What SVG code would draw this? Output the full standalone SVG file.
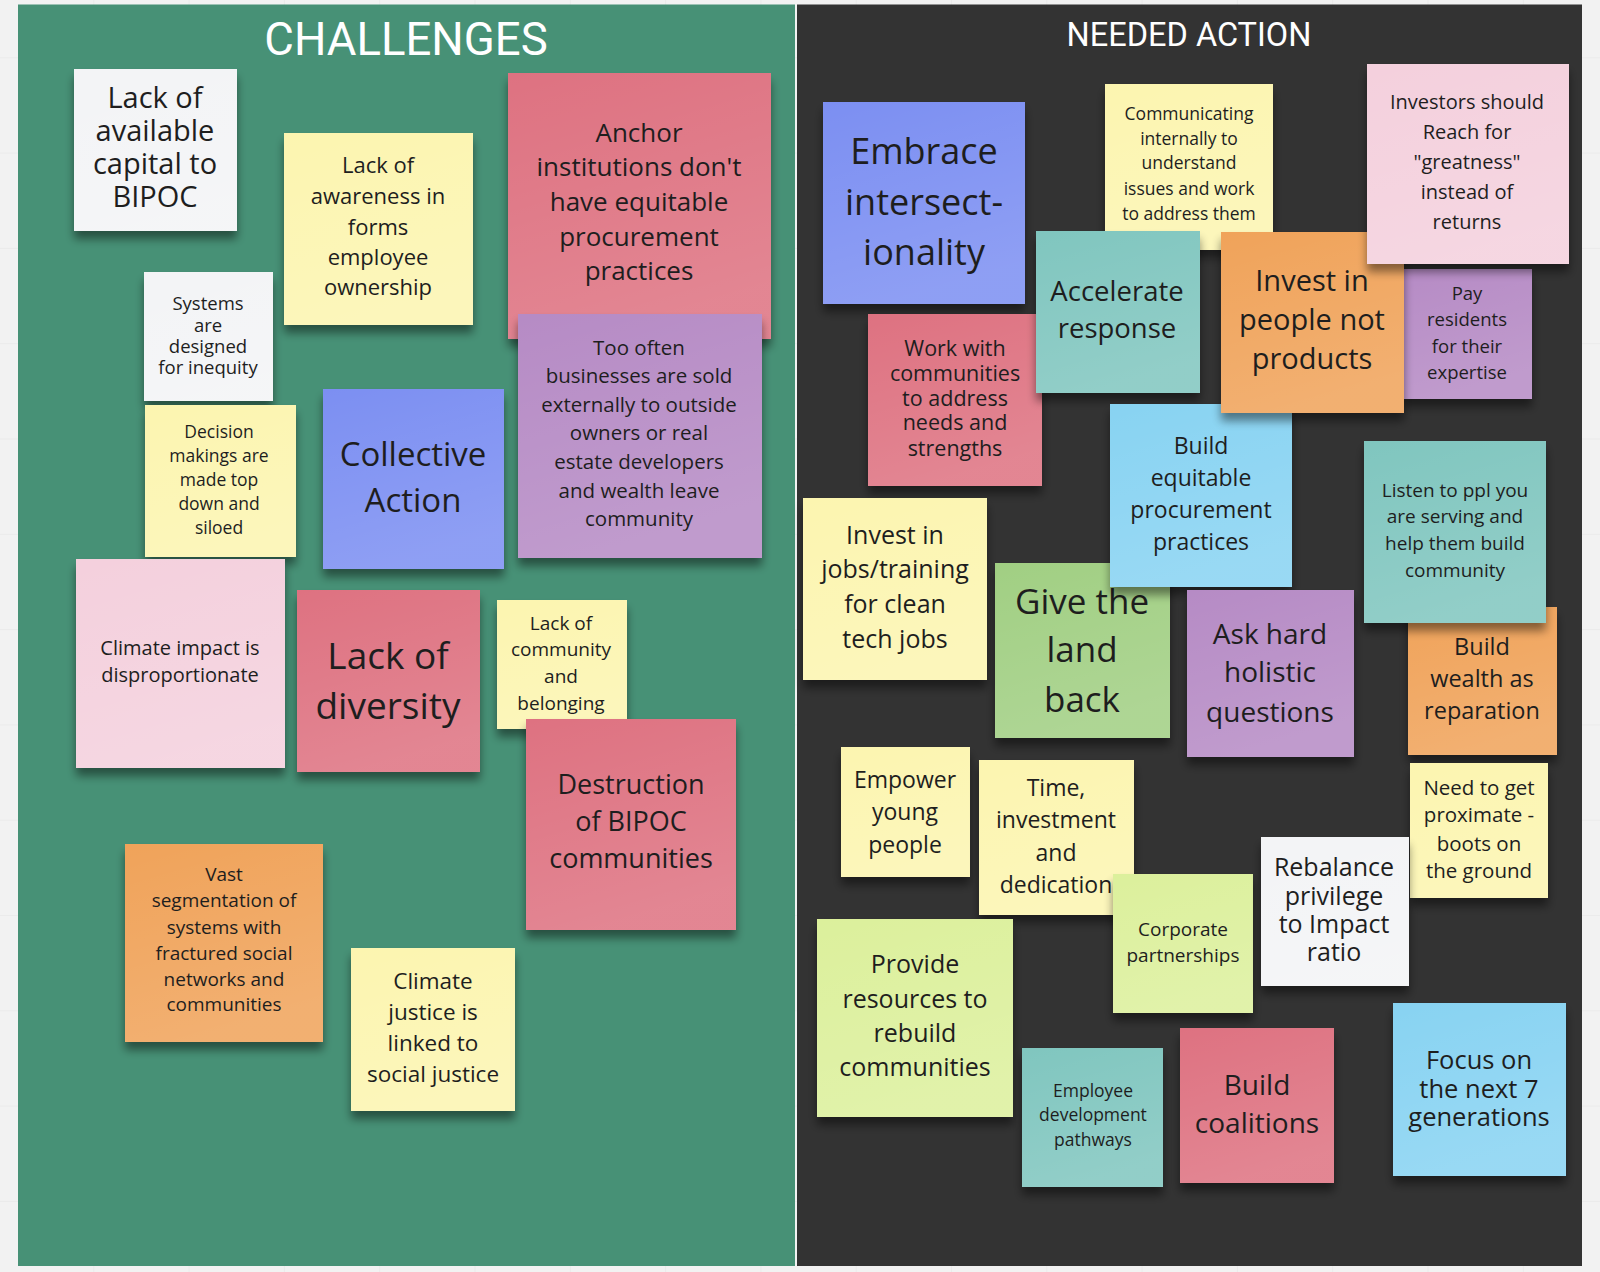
<svg xmlns="http://www.w3.org/2000/svg" width="1600" height="1272" viewBox="0 0 1600 1272">
<defs>
<pattern id="grid" x="-2" y="-38" width="95.3" height="95.3" patternUnits="userSpaceOnUse">
<path d="M0 0H95.3M0 0V95.3" fill="none" stroke="#e3e3e3" stroke-width="1"/>
</pattern>
<filter id="sh" x="-20%" y="-20%" width="140%" height="150%">
<feGaussianBlur in="SourceAlpha" stdDeviation="5"/>
<feOffset dy="8"/>
<feComponentTransfer><feFuncA type="linear" slope="0.45"/></feComponentTransfer>
<feMerge><feMergeNode/><feMergeNode in="SourceGraphic"/></feMerge>
</filter>
<linearGradient id="sheen" x1="0" y1="0" x2="0.3" y2="1">
<stop offset="0" stop-color="#fff" stop-opacity="0"/>
<stop offset="1" stop-color="#fff" stop-opacity="0.14"/>
</linearGradient>
</defs>
<style>
.s{filter:url(#sh)}
.g{fill:url(#sheen)}
.t{font-family:"Open Sans","DejaVu Sans",sans-serif;text-anchor:middle;fill:#1e1e1e}
.h{font-family:Roboto,"Liberation Sans",sans-serif;text-anchor:middle;fill:#ffffff}
.wh{fill:#f3f4f6}.ye{fill:#fcf5b0}.re{fill:#de7281}.pu{fill:#b68bc5}.bl{fill:#7b8ff2}
.pk{fill:#f4d0dd}.or{fill:#f0a35a}.te{fill:#80c6bf}.lb{fill:#88d3f2}.gr{fill:#a1cf83}.lg{fill:#dcf09c}
</style>
<rect width="1600" height="1272" fill="#f2f2f2"/>
<rect width="1600" height="1272" fill="url(#grid)"/>
<rect x="18" y="4.5" width="777" height="1261.5" fill="#479176"/>
<rect x="797" y="4.5" width="785" height="1261.5" fill="#333333"/>
<text class="h" x="406" y="55" font-size="45.5">CHALLENGES</text>
<text class="h" x="1189" y="46" font-size="32.5">NEEDED ACTION</text>

<g id="n-capital"><rect class="s wh" x="74" y="69" width="163" height="162"/><rect class="g" x="74" y="69" width="163" height="162"/>
<text class="t" font-size="29"><tspan x="155" y="108">Lack of</tspan><tspan x="155" y="141">available</tspan><tspan x="155" y="174">capital to</tspan><tspan x="155" y="207">BIPOC</tspan></text></g>

<g id="n-awareness"><rect class="s ye" x="284" y="133" width="189" height="192"/><rect class="g" x="284" y="133" width="189" height="192"/>
<text class="t" font-size="22"><tspan x="378" y="173">Lack of</tspan><tspan x="378" y="204">awareness in</tspan><tspan x="378" y="235">forms</tspan><tspan x="378" y="265">employee</tspan><tspan x="378" y="295">ownership</tspan></text></g>

<g id="n-anchor"><rect class="s re" x="508" y="73" width="263" height="266"/><rect class="g" x="508" y="73" width="263" height="266"/>
<text class="t" font-size="26"><tspan x="639" y="142">Anchor</tspan><tspan x="639" y="176">institutions don't</tspan><tspan x="639" y="211">have equitable</tspan><tspan x="639" y="246">procurement</tspan><tspan x="639" y="280">practices</tspan></text></g>

<g id="n-systems"><rect class="s wh" x="144" y="272" width="129" height="129"/><rect class="g" x="144" y="272" width="129" height="129"/>
<text class="t" font-size="18.5"><tspan x="208" y="310">Systems</tspan><tspan x="208" y="332">are</tspan><tspan x="208" y="353">designed</tspan><tspan x="208" y="374">for inequity</tspan></text></g>

<g id="n-toooften"><rect class="s pu" x="518" y="314" width="244" height="244"/><rect class="g" x="518" y="314" width="244" height="244"/>
<text class="t" font-size="20.5"><tspan x="639" y="355">Too often</tspan><tspan x="639" y="383">businesses are sold</tspan><tspan x="639" y="412">externally to outside</tspan><tspan x="639" y="440">owners or real</tspan><tspan x="639" y="469">estate developers</tspan><tspan x="639" y="498">and wealth leave</tspan><tspan x="639" y="526">community</tspan></text></g>

<g id="n-decision"><rect class="s ye" x="145" y="405" width="151" height="152"/><rect class="g" x="145" y="405" width="151" height="152"/>
<text class="t" font-size="17.5"><tspan x="219" y="438">Decision</tspan><tspan x="219" y="462">makings are</tspan><tspan x="219" y="486">made top</tspan><tspan x="219" y="510">down and</tspan><tspan x="219" y="534">siloed</tspan></text></g>

<g id="n-collective"><rect class="s bl" x="323" y="389" width="181" height="180"/><rect class="g" x="323" y="389" width="181" height="180"/>
<text class="t" font-size="33"><tspan x="413" y="466">Collective</tspan><tspan x="413" y="512">Action</tspan></text></g>

<g id="n-climate-impact"><rect class="s pk" x="76" y="559" width="209" height="209"/><rect class="g" x="76" y="559" width="209" height="209"/>
<text class="t" font-size="20"><tspan x="180" y="655">Climate impact is</tspan><tspan x="180" y="682">disproportionate</tspan></text></g>

<g id="n-diversity"><rect class="s re" x="297" y="590" width="183" height="182"/><rect class="g" x="297" y="590" width="183" height="182"/>
<text class="t" font-size="37"><tspan x="388" y="669">Lack of</tspan><tspan x="388" y="719">diversity</tspan></text></g>

<g id="n-community"><rect class="s ye" x="497" y="600" width="130" height="129"/><rect class="g" x="497" y="600" width="130" height="129"/>
<text class="t" font-size="19"><tspan x="561" y="630">Lack of</tspan><tspan x="561" y="656">community</tspan><tspan x="561" y="683">and</tspan><tspan x="561" y="710">belonging</tspan></text></g>

<g id="n-destruction"><rect class="s re" x="526" y="719" width="210" height="211"/><rect class="g" x="526" y="719" width="210" height="211"/>
<text class="t" font-size="27"><tspan x="631" y="794">Destruction</tspan><tspan x="631" y="831">of BIPOC</tspan><tspan x="631" y="868">communities</tspan></text></g>

<g id="n-segmentation"><rect class="s or" x="125" y="844" width="198" height="198"/><rect class="g" x="125" y="844" width="198" height="198"/>
<text class="t" font-size="19"><tspan x="224" y="881">Vast</tspan><tspan x="224" y="907">segmentation of</tspan><tspan x="224" y="934">systems with</tspan><tspan x="224" y="960">fractured social</tspan><tspan x="224" y="986">networks and</tspan><tspan x="224" y="1011">communities</tspan></text></g>

<g id="n-climate-justice"><rect class="s ye" x="351" y="948" width="164" height="163"/><rect class="g" x="351" y="948" width="164" height="163"/>
<text class="t" font-size="22.5"><tspan x="433" y="989">Climate</tspan><tspan x="433" y="1020">justice is</tspan><tspan x="433" y="1051">linked to</tspan><tspan x="433" y="1082">social justice</tspan></text></g>

<g id="n-embrace"><rect class="s bl" x="823" y="102" width="202" height="202"/><rect class="g" x="823" y="102" width="202" height="202"/>
<text class="t" font-size="36"><tspan x="924" y="164">Embrace</tspan><tspan x="924" y="215">intersect-</tspan><tspan x="924" y="265">ionality</tspan></text></g>

<g id="n-communicating"><rect class="s ye" x="1105" y="84" width="168" height="166"/><rect class="g" x="1105" y="84" width="168" height="166"/>
<text class="t" font-size="17.5"><tspan x="1189" y="120">Communicating</tspan><tspan x="1189" y="145">internally to</tspan><tspan x="1189" y="169">understand</tspan><tspan x="1189" y="195">issues and work</tspan><tspan x="1189" y="220">to address them</tspan></text></g>

<g id="n-work-with"><rect class="s re" x="868" y="314" width="174" height="172"/><rect class="g" x="868" y="314" width="174" height="172"/>
<text class="t" font-size="21.5"><tspan x="955" y="356">Work with</tspan><tspan x="955" y="381">communities</tspan><tspan x="955" y="406">to address</tspan><tspan x="955" y="430">needs and</tspan><tspan x="955" y="456">strengths</tspan></text></g>

<g id="n-accelerate"><rect class="s te" x="1036" y="231" width="164" height="162"/><rect class="g" x="1036" y="231" width="164" height="162"/>
<text class="t" font-size="27.5"><tspan x="1117" y="301">Accelerate</tspan><tspan x="1117" y="338">response</tspan></text></g>

<g id="n-pay"><rect class="s pu" x="1402" y="269" width="130" height="130"/><rect class="g" x="1402" y="269" width="130" height="130"/>
<text class="t" font-size="18.5"><tspan x="1467" y="300">Pay</tspan><tspan x="1467" y="326">residents</tspan><tspan x="1467" y="353">for their</tspan><tspan x="1467" y="379">expertise</tspan></text></g>

<g id="n-give-land"><rect class="s gr" x="995" y="563" width="175" height="175"/><rect class="g" x="995" y="563" width="175" height="175"/>
<text class="t" font-size="35"><tspan x="1082" y="614">Give the</tspan><tspan x="1082" y="662">land</tspan><tspan x="1082" y="712">back</tspan></text></g>

<g id="n-build-procurement"><rect class="s lb" x="1110" y="404" width="182" height="183"/><rect class="g" x="1110" y="404" width="182" height="183"/>
<text class="t" font-size="23"><tspan x="1201" y="454">Build</tspan><tspan x="1201" y="486">equitable</tspan><tspan x="1201" y="518">procurement</tspan><tspan x="1201" y="550">practices</tspan></text></g>

<g id="n-invest-people"><rect class="s or" x="1221" y="232" width="183" height="181"/><rect class="g" x="1221" y="232" width="183" height="181"/>
<text class="t" font-size="29"><tspan x="1312" y="291">Invest in</tspan><tspan x="1312" y="330">people not</tspan><tspan x="1312" y="369">products</tspan></text></g>

<g id="n-investors"><rect class="s pk" x="1367" y="64" width="202" height="200"/><rect class="g" x="1367" y="64" width="202" height="200"/>
<text class="t" font-size="20"><tspan x="1467" y="109">Investors should</tspan><tspan x="1467" y="139">Reach for</tspan><tspan x="1467" y="169">"greatness"</tspan><tspan x="1467" y="199">instead of</tspan><tspan x="1467" y="229">returns</tspan></text></g>

<g id="n-build-wealth"><rect class="s or" x="1408" y="607" width="149" height="148"/><rect class="g" x="1408" y="607" width="149" height="148"/>
<text class="t" font-size="23.5"><tspan x="1482" y="655">Build</tspan><tspan x="1482" y="687">wealth as</tspan><tspan x="1482" y="719">reparation</tspan></text></g>

<g id="n-listen"><rect class="s te" x="1364" y="441" width="182" height="182"/><rect class="g" x="1364" y="441" width="182" height="182"/>
<text class="t" font-size="19"><tspan x="1455" y="497">Listen to ppl you</tspan><tspan x="1455" y="523">are serving and</tspan><tspan x="1455" y="550">help them build</tspan><tspan x="1455" y="577">community</tspan></text></g>

<g id="n-jobs"><rect class="s ye" x="803" y="498" width="184" height="182"/><rect class="g" x="803" y="498" width="184" height="182"/>
<text class="t" font-size="25"><tspan x="895" y="544">Invest in</tspan><tspan x="895" y="578">jobs/training</tspan><tspan x="895" y="613">for clean</tspan><tspan x="895" y="648">tech jobs</tspan></text></g>

<g id="n-ask-hard"><rect class="s pu" x="1187" y="590" width="167" height="167"/><rect class="g" x="1187" y="590" width="167" height="167"/>
<text class="t" font-size="28"><tspan x="1270" y="644">Ask hard</tspan><tspan x="1270" y="682">holistic</tspan><tspan x="1270" y="722">questions</tspan></text></g>

<g id="n-empower"><rect class="s ye" x="841" y="747" width="129" height="130"/><rect class="g" x="841" y="747" width="129" height="130"/>
<text class="t" font-size="23"><tspan x="905" y="788">Empower</tspan><tspan x="905" y="820">young</tspan><tspan x="905" y="853">people</tspan></text></g>

<g id="n-time"><rect class="s ye" x="979" y="760" width="155" height="155"/><rect class="g" x="979" y="760" width="155" height="155"/>
<text class="t" font-size="23"><tspan x="1056" y="796">Time,</tspan><tspan x="1056" y="828">investment</tspan><tspan x="1056" y="861">and</tspan><tspan x="1056" y="893">dedication</tspan></text></g>

<g id="n-corporate"><rect class="s lg" x="1113" y="874" width="140" height="139"/><rect class="g" x="1113" y="874" width="140" height="139"/>
<text class="t" font-size="19"><tspan x="1183" y="936">Corporate</tspan><tspan x="1183" y="962">partnerships</tspan></text></g>

<g id="n-need"><rect class="s ye" x="1410" y="763" width="138" height="135"/><rect class="g" x="1410" y="763" width="138" height="135"/>
<text class="t" font-size="20.5"><tspan x="1479" y="795">Need to get</tspan><tspan x="1479" y="822">proximate -</tspan><tspan x="1479" y="851">boots on</tspan><tspan x="1479" y="878">the ground</tspan></text></g>

<g id="n-rebalance"><rect class="s wh" x="1261" y="837" width="148" height="149"/><rect class="g" x="1261" y="837" width="148" height="149"/>
<text class="t" font-size="25"><tspan x="1334" y="876">Rebalance</tspan><tspan x="1334" y="905">privilege</tspan><tspan x="1334" y="933">to Impact</tspan><tspan x="1334" y="961">ratio</tspan></text></g>

<g id="n-provide"><rect class="s lg" x="817" y="919" width="196" height="198"/><rect class="g" x="817" y="919" width="196" height="198"/>
<text class="t" font-size="25"><tspan x="915" y="973">Provide</tspan><tspan x="915" y="1008">resources to</tspan><tspan x="915" y="1042">rebuild</tspan><tspan x="915" y="1076">communities</tspan></text></g>

<g id="n-employee"><rect class="s te" x="1022" y="1048" width="141" height="139"/><rect class="g" x="1022" y="1048" width="141" height="139"/>
<text class="t" font-size="17.5"><tspan x="1093" y="1097">Employee</tspan><tspan x="1093" y="1121">development</tspan><tspan x="1093" y="1146">pathways</tspan></text></g>

<g id="n-coalitions"><rect class="s re" x="1180" y="1028" width="154" height="155"/><rect class="g" x="1180" y="1028" width="154" height="155"/>
<text class="t" font-size="28"><tspan x="1257" y="1095">Build</tspan><tspan x="1257" y="1133">coalitions</tspan></text></g>

<g id="n-focus"><rect class="s lb" x="1393" y="1003" width="173" height="173"/><rect class="g" x="1393" y="1003" width="173" height="173"/>
<text class="t" font-size="25.5"><tspan x="1479" y="1069">Focus on</tspan><tspan x="1479" y="1098">the next 7</tspan><tspan x="1479" y="1126">generations</tspan></text></g>

<g id="connectors"/>
</svg>
